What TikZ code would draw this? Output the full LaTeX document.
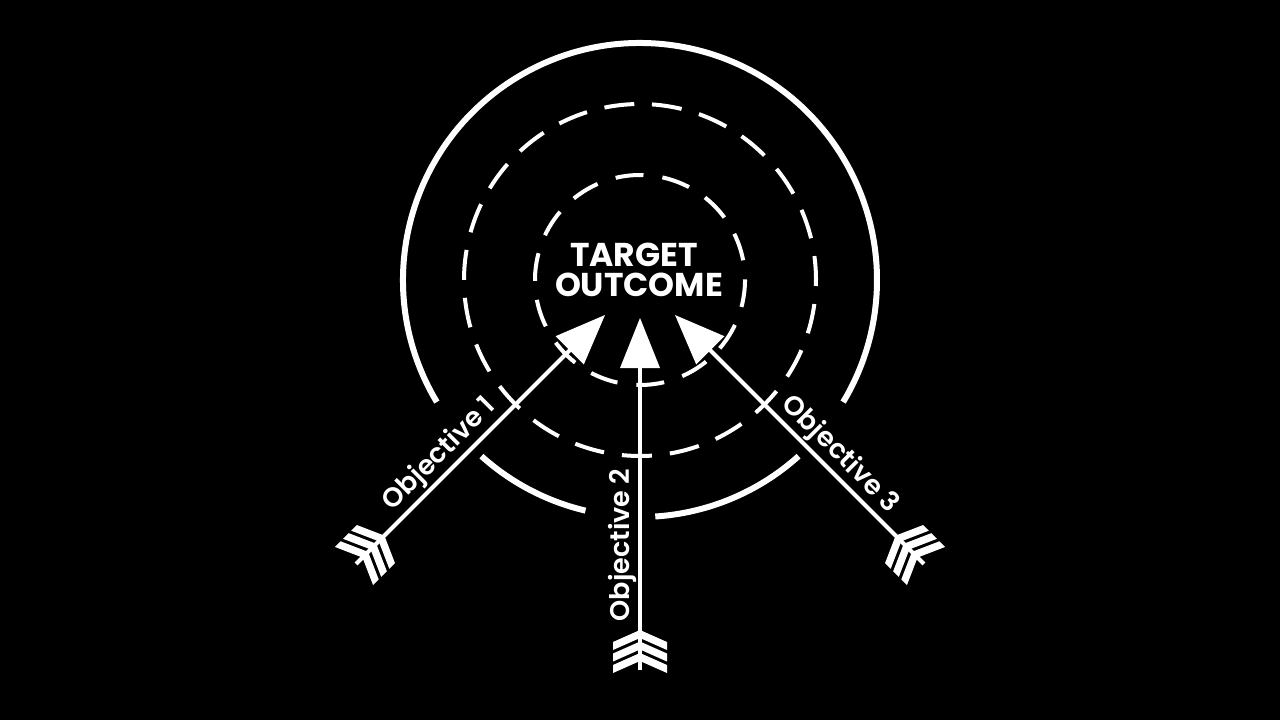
\documentclass[tikz,border=0pt]{standalone}
\usepackage{fontspec}
\setmainfont{Poppins}
\IfFontExistsTF{Poppins SemiBold}{\newfontfamily\semif{Poppins SemiBold}}{\newcommand\semif{\bfseries}}
\begin{document}
\begin{tikzpicture}[x=1pt,y=-1pt,
  ring/.style={white, line width=6pt},
  dring/.style={white, line width=4pt},
  shaft/.style={white, line width=4pt},
  title/.style={white, font=\fontsize{33}{30}\selectfont\bfseries, inner sep=0pt, anchor=base},
  lbl/.style={white, font=\fontsize{27}{30}\selectfont\semif, inner sep=0pt, anchor=base},
  objarrow/.pic={
    \coordinate (-tip) at (0,0);
    \coordinate (-neck) at (0,40);
    \coordinate (-tail) at (0,352);
    \fill[white] (0,0) -- (-20,50) -- (20,50) -- cycle;
    \foreach \a in {312,323.5,335}
      \fill[white] (0,\a) -- (-27,\a+12) -- (-27,\a+20) -- (0,\a+8) -- (27,\a+20) -- (27,\a+12) -- cycle;
  }]
\fill[black] (0,0) rectangle (1280,720);
\useasboundingbox (0,0) rectangle (1280,720);
\coordinate (c) at (640,280);
% outer ring with gaps
\draw[ring] (c) ++(48:237) arc[start angle=48, end angle=86.3, radius=237];
\draw[ring] (c) ++(103.3:237) arc[start angle=103.3, end angle=132, radius=237];
\draw[ring] (c) ++(149:237) arc[start angle=149, end angle=391, radius=237];
% dashed rings
\draw[dring, dash pattern=on 30pt off 18.1pt] (c) ++(273.9:176) arc[start angle=273.9, delta angle=360, radius=176];
\draw[dring, dash pattern=on 28pt off 19.1pt] (c) ++(282.5:105) arc[start angle=282.5, delta angle=360, radius=105];
% title
\node[title] (t1) at (634,266) {TARGET};
\node[title] (t2) at (639,296) {OUTCOME};
% arrows
\pic[rotate=-45] (a1) at (605,315) {objarrow};
\pic (a2) at (640,318) {objarrow};
\pic[rotate=45] (a3) at (675,315) {objarrow};
\draw[shaft] (a1-neck) -- (a1-tail);
\draw[shaft] (a2-neck) -- (a2-tail);
\draw[shaft] (a3-neck) -- (a3-tail);
% labels
\node[lbl, rotate=45] (l1) at (444.8,459.6) {Objective 1};
\node[lbl, rotate=90] (l2) at (629,545) {Objective 2};
\node[lbl, rotate=-45] (l3) at (835.2,459.6) {Objective 3};
\end{tikzpicture}
\end{document}
